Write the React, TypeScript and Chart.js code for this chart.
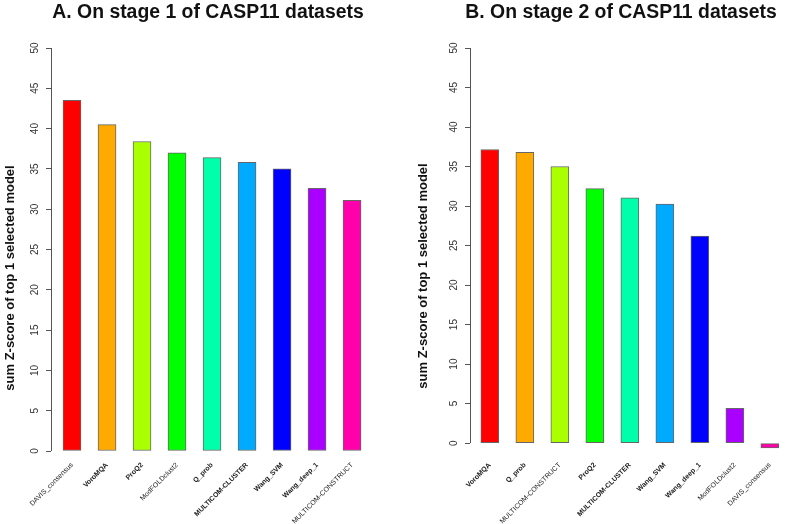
import React, { useEffect, useRef } from "react";
import { Chart, registerables } from "chart.js";

Chart.register(...registerables);

const FONT = "'Liberation Sans', Arial, sans-serif";

const rankColors = ["#FF0000", "#FFAA00", "#AAFF00", "#00FF00", "#00FFAA", "#00AAFF", "#0000FF", "#AA00FF", "#FF00AA"];

const stage1Models = ["DAVIS_consensus", "VoroMQA", "ProQ2", "ModFOLDclust2", "Q_prob", "MULTICOM-CLUSTER", "Wang_SVM", "Wang_deep_1", "MULTICOM-CONSTRUCT"];
const stage1Scores = [43.5, 40.5, 38.4, 37.0, 36.4, 35.8, 35.0, 32.6, 31.1];

const stage2Models = ["VoroMQA", "Q_prob", "MULTICOM-CONSTRUCT", "ProQ2", "MULTICOM-CLUSTER", "Wang_SVM", "Wang_deep_1", "ModFOLDclust2", "DAVIS_consensus"];
const stage2Scores = [37.15, 36.8, 35.0, 32.2, 31.05, 30.25, 26.2, 4.4, -0.6];

const boldModels = ["VoroMQA", "ProQ2", "Q_prob", "MULTICOM-CLUSTER", "Wang_SVM", "Wang_deep_1"];

const yTickValues = [0, 5, 10, 15, 20, 25, 30, 35, 40, 45, 50];
const yAxisTitle = "sum Z-score of top 1 selected model";

type PanelProps = {
  title: string;
  titleX: number;
  models: string[];
  scores: number[];
  width: number;
  axisX: number;
  padRight: number;
  xMin: number;
  xMax: number;
  yMin: number;
  chartBottom: number;
  chartTop: number;
  yTitleX: number;
  yTitleY: number;
};

const HEIGHT = 524;

function Panel(p: PanelProps) {
  const ref = useRef<HTMLCanvasElement | null>(null);
  useEffect(() => {
    if (!ref.current) return;
    const axisPlugin = {
      id: "axisLine",
      afterDraw(chart: any) {
        const ctx = chart.ctx;
        const y = chart.scales.y;
        const x = Math.floor(chart.chartArea.left) + 0.5;
        ctx.save();
        ctx.strokeStyle = "#555";
        ctx.lineWidth = 1;
        ctx.beginPath();
        ctx.moveTo(x, y.getPixelForValue(yTickValues[0]));
        ctx.lineTo(x, y.getPixelForValue(yTickValues[yTickValues.length - 1]));
        ctx.stroke();
        ctx.fillStyle = "#111";
        ctx.font = `bold 19.4px ${FONT}`;
        ctx.textAlign = "center";
        ctx.textBaseline = "middle";
        ctx.fillText(p.title, p.titleX, 13);
        ctx.translate(p.yTitleX, p.yTitleY);
        ctx.rotate(-Math.PI / 2);
        ctx.font = `bold 13px ${FONT}`;
        ctx.fillText(yAxisTitle, 0, 0);
        ctx.restore();
      },
    };
    const chart = new Chart(ref.current, {
      type: "bar",
      data: {
        datasets: [
          {
            data: p.models.map((m, i) => ({ x: i, y: p.scores[i] })),
            backgroundColor: rankColors,
            borderColor: "#666",
            borderWidth: 1,
            borderSkipped: false,
            barThickness: 18,
          } as any,
        ],
      },
      options: {
        responsive: false,
        animation: false,
        devicePixelRatio: 1,
        layout: { padding: { top: p.chartTop, right: p.padRight, left: 0, bottom: 0 } },
        plugins: {
          legend: { display: false },
          tooltip: { enabled: false },
          title: { display: false },
        },
        scales: {
          x: {
            type: "linear",
            offset: false,
            min: p.xMin,
            max: p.xMax,
            bounds: "data",
            afterBuildTicks: (s: any) => {
              s.ticks = p.models.map((_, i) => ({ value: i }));
            },
            afterFit: (s: any) => {
              s.height = HEIGHT - p.chartBottom;
              s.paddingLeft = 0;
              s.paddingRight = 0;
            },
            grid: { display: false, offset: false },
            border: { display: false },
            ticks: {
              autoSkip: false,
              minRotation: 45,
              maxRotation: 45,
              padding: 2,
              color: "#222",
              font: (ctx: any) => ({
                family: FONT,
                size: 7,
                weight: boldModels.includes(p.models[ctx.tick ? ctx.tick.value : ctx.index]) ? "bold" : "normal",
              }),
              callback: (v: any) => p.models[Math.round(Number(v))],
            },
          },
          y: {
            min: p.yMin,
            max: 50,
            afterBuildTicks: (s: any) => {
              s.ticks = yTickValues.map((v) => ({ value: v }));
            },
            afterFit: (s: any) => {
              s.width = p.axisX;
              s.paddingTop = 0;
              s.paddingBottom = 0;
            },
            grid: { drawOnChartArea: false, drawTicks: true, tickLength: 5, color: "#555" },
            border: { display: false },
            ticks: {
              minRotation: 90,
              maxRotation: 90,
              crossAlign: "center",
              padding: 5,
              color: "#333",
              font: { family: FONT, size: 10 },
              callback: (v: any) => String(v),
            },
          },
        },
      } as any,
      plugins: [axisPlugin],
    });
    return () => chart.destroy();
  }, []);
  return (
    <canvas
      ref={ref}
      width={p.width}
      height={HEIGHT}
      style={{ width: p.width, height: HEIGHT, display: "block" }}
    />
  );
}

export default function App() {
  return (
    <div
      style={{
        position: "absolute",
        left: 0,
        top: 0,
        width: 787,
        height: HEIGHT,
        display: "flex",
        background: "#fff",
        overflow: "hidden",
      }}
    >
      <Panel
        title="A. On stage 1 of CASP11 datasets"
        titleX={208}
        models={stage1Models}
        scores={stage1Scores}
        width={394}
        axisX={51}
        padRight={22}
        xMin={-0.6}
        xMax={8.57}
        yMin={0}
        chartBottom={451}
        chartTop={48}
        yTitleX={10}
        yTitleY={278}
      />
      <Panel
        title="B. On stage 2 of CASP11 datasets"
        titleX={227}
        models={stage2Models}
        scores={stage2Scores}
        width={393}
        axisX={76}
        padRight={0}
        xMin={-0.567}
        xMax={8.49}
        yMin={-1}
        chartBottom={451}
        chartTop={48}
        yTitleX={29}
        yTitleY={276}
      />
    </div>
  );
}
